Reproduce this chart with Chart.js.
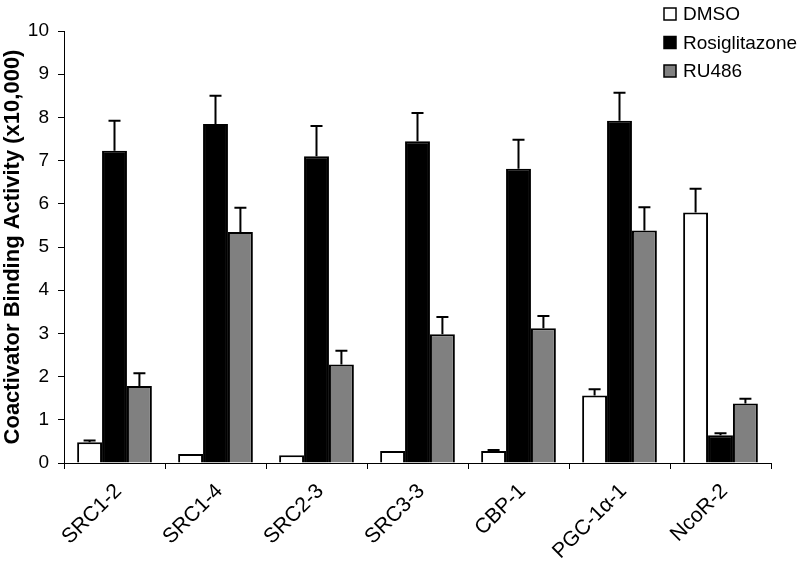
<!DOCTYPE html>
<html>
<head>
<meta charset="utf-8">
<script src="https://cdn.jsdelivr.net/npm/chart.js@4/dist/chart.umd.min.js"></script>
<style>
  html, body { margin: 0; padding: 0; background: #fff; }
  #wrap { width: 800px; height: 576px; position: relative; }
</style>
</head>
<body>
<div id="wrap"><canvas id="c" width="800" height="576"></canvas></div>
<script>
const categories = ['SRC1-2', 'SRC1-4', 'SRC2-3', 'SRC3-3', 'CBP-1', 'PGC-1\u03b1-1', 'NcoR-2'];
const seriesNames = ['DMSO', 'Rosiglitazone', 'RU486'];
const dmso      = [0.48, 0.21, 0.18, 0.28, 0.28, 1.56, 5.80];
const dmsoErr   = [0.04, 0.00, 0.00, 0.00, 0.02, 0.15, 0.55];
const rosi      = [7.23, 7.85, 7.10, 7.45, 6.81, 7.92, 0.64];
const rosiErr   = [0.69, 0.65, 0.70, 0.65, 0.67, 0.65, 0.05];
const ru486     = [1.78, 5.35, 2.28, 2.98, 3.12, 5.38, 1.38];
const ru486Err  = [0.30, 0.56, 0.32, 0.40, 0.28, 0.54, 0.11];
const yTicks    = [0, 1, 2, 3, 4, 5, 6, 7, 8, 9, 10];
const yTitle    = 'Coactivator Binding Activity (x10,000)';

const FONT = "'Liberation Sans', Arial, sans-serif";

const errorBars = {
  id: 'errorBars',
  afterDatasetsDraw(chart) {
    const ctx = chart.ctx;
    const ys = chart.scales.y;
    ctx.save();
    ctx.strokeStyle = '#000';
    ctx.lineWidth = 2;
    chart.data.datasets.forEach((ds, di) => {
      const meta = chart.getDatasetMeta(di);
      meta.data.forEach((bar, i) => {
        const e = ds.errors[i];
        if (!e) return;
        const yTop = ys.getPixelForValue(ds.data[i] + e);
        const yBase = ys.getPixelForValue(ds.data[i]);
        ctx.beginPath();
        ctx.moveTo(bar.x, yBase);
        ctx.lineTo(bar.x, yTop);
        ctx.moveTo(bar.x - 6, yTop);
        ctx.lineTo(bar.x + 6, yTop);
        ctx.stroke();
      });
    });
    ctx.restore();
  }
};

const customLegend = {
  id: 'customLegend',
  afterDraw(chart) {
    const ctx = chart.ctx;
    ctx.save();
    ctx.font = '19px ' + FONT;
    ctx.textBaseline = 'middle';
    ctx.textAlign = 'left';
    chart.data.datasets.forEach((ds, i) => {
      const cy = 14 + i * 28.5;
      ctx.fillStyle = ds.backgroundColor;
      ctx.fillRect(664, cy - 6, 12, 12);
      ctx.strokeStyle = '#000';
      ctx.lineWidth = 1.5;
      ctx.strokeRect(664, cy - 6, 12, 12);
      ctx.fillStyle = '#000';
      ctx.fillText(ds.label, 683, cy + 1);
    });
    ctx.restore();
  }
};

new Chart(document.getElementById('c'), {
  type: 'bar',
  data: {
    labels: categories,
    datasets: [
      { label: seriesNames[0], data: dmso, errors: dmsoErr, backgroundColor: '#ffffff', borderColor: '#000', borderWidth: 2 },
      { label: seriesNames[1], data: rosi, errors: rosiErr, backgroundColor: '#000000', borderColor: '#000', borderWidth: 2 },
      { label: seriesNames[2], data: ru486, errors: ru486Err, backgroundColor: '#808080', borderColor: '#000', borderWidth: 2 }
    ]
  },
  options: {
    responsive: false,
    animation: false,
    devicePixelRatio: 1,
    layout: { padding: { top: 31, right: 29, left: 0, bottom: 0 } },
    datasets: { bar: { categoryPercentage: 0.74, barPercentage: 1.0, borderSkipped: 'bottom' } },
    plugins: { legend: { display: false }, tooltip: { enabled: false } },
    scales: {
      x: {
        afterFit(s) { s.height = 113; },
        grid: { drawOnChartArea: false, drawTicks: true, tickLength: 6, color: '#000', offset: true },
        border: { color: '#000', width: 1 },
        ticks: { color: '#000', font: { family: FONT, size: 21 }, minRotation: 45, maxRotation: 45, padding: 10, labelOffset: 4, autoSkip: false }
      },
      y: {
        min: 0, max: 10,
        afterFit(s) { s.width = 64; },
        afterBuildTicks(s) { s.ticks = yTicks.map(v => ({ value: v })); },
        grid: { drawOnChartArea: false, drawTicks: true, tickLength: 6, color: '#000' },
        border: { color: '#000', width: 1 },
        ticks: { color: '#000', font: { family: FONT, size: 19 }, padding: 9 },
        title: { display: true, text: yTitle, color: '#000', font: { family: FONT, size: 22, weight: 'bold' }, padding: { top: 0, bottom: 0 } }
      }
    }
  },
  plugins: [errorBars, customLegend]
});
</script>
</body>
</html>
